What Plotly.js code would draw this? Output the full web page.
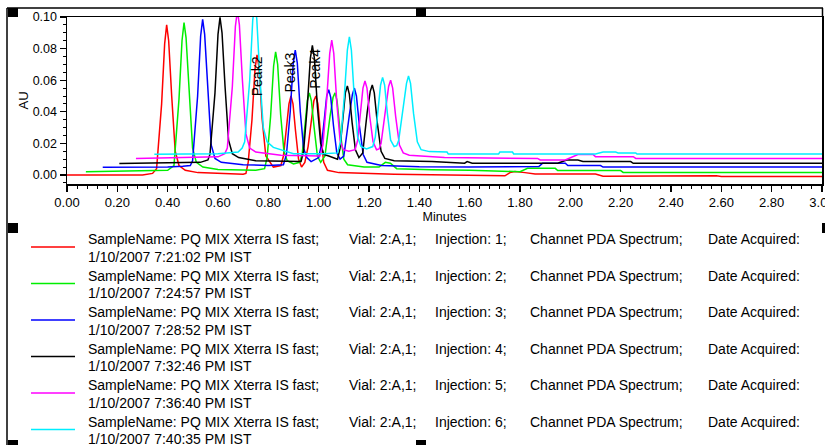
<!DOCTYPE html>
<html>
<head>
<meta charset="utf-8">
<script src="https://cdn.plot.ly/plotly-3.0.1.min.js"></script>
<style>
html,body{margin:0;padding:0;background:#fff;}
#chart{width:825px;height:445px;}
</style>
</head>
<body>
<div id="chart"></div>
<script>
// ---- data (Minutes vs AU) ----
var timeRed = [0, 0.30, 0.34, 0.356, 0.376, 0.388, 0.396, 0.404, 0.416, 0.43, 0.445, 0.47, 0.52, 0.60, 0.70, 0.711, 0.72, 0.735, 0.747, 0.755, 0.763, 0.775, 0.79, 0.82, 0.85, 0.86, 0.872, 0.882, 0.89, 0.898, 0.908, 0.92, 0.932, 0.945, 0.958, 0.970, 0.981, 0.989, 0.997, 1.008, 1.02, 1.035, 1.08, 1.30, 1.50, 1.74, 1.76, 1.78, 1.82, 1.86, 2.10, 2.13, 2.58, 2.60, 3.00];
var auRed   = [0, 0, 0.001, 0.004, 0.045, 0.083, 0.095, 0.085, 0.050, 0.015, 0.006, 0.003, 0.0015, 0.001, 0.0005, 0.001, 0.008, 0.035, 0.067, 0.076, 0.068, 0.036, 0.012, 0.005, 0.006, 0.012, 0.030, 0.045, 0.050, 0.045, 0.028, 0.010, 0.005, 0.008, 0.018, 0.035, 0.047, 0.050, 0.045, 0.025, 0.008, 0.003, 0.0015, 0.0005, 0, -0.0005, 0.0015, 0.0022, 0.0015, 0.0006, 0.0006, -0.0008, -0.0005, -0.001, -0.001];

var timeGreen = [0.075, 0.30, 0.40, 0.425, 0.445, 0.457, 0.465, 0.473, 0.485, 0.499, 0.514, 0.54, 0.60, 0.75, 0.785, 0.795, 0.809, 0.821, 0.829, 0.837, 0.849, 0.862, 0.875, 0.90, 0.925, 0.935, 0.946, 0.955, 0.963, 0.971, 0.982, 0.995, 1.008, 1.025, 1.045, 1.057, 1.065, 1.073, 1.085, 1.10, 1.115, 1.18, 1.24, 1.265, 1.285, 1.31, 1.45, 1.60, 1.80, 1.83, 1.94, 1.95, 2.20, 2.21, 3.00];
var auGreen   = [0.0021, 0.0025, 0.003, 0.006, 0.048, 0.085, 0.0964, 0.087, 0.052, 0.017, 0.008, 0.005, 0.0035, 0.003, 0.004, 0.011, 0.037, 0.069, 0.078, 0.070, 0.038, 0.015, 0.009, 0.007, 0.008, 0.014, 0.032, 0.047, 0.052, 0.047, 0.030, 0.012, 0.008, 0.012, 0.037, 0.049, 0.052, 0.047, 0.028, 0.010, 0.0065, 0.005, 0.005, 0.008, 0.0075, 0.004, 0.0033, 0.003, 0.0021, 0.0042, 0.0042, 0.0028, 0.0028, 0.0016, 0.0016];

var timeBlue = [0.142, 0.40, 0.46, 0.49, 0.499, 0.519, 0.531, 0.539, 0.547, 0.559, 0.573, 0.588, 0.613, 0.70, 0.80, 0.86, 0.872, 0.887, 0.899, 0.907, 0.915, 0.927, 0.940, 0.953, 0.97, 1.00, 1.012, 1.023, 1.032, 1.040, 1.048, 1.059, 1.072, 1.085, 1.10, 1.122, 1.134, 1.142, 1.150, 1.162, 1.177, 1.192, 1.25, 1.40, 1.60, 1.875, 1.89, 1.98, 1.99, 2.12, 2.13, 3.00];
var auBlue   = [0.0049, 0.005, 0.0055, 0.006, 0.009, 0.050, 0.088, 0.0985, 0.089, 0.054, 0.019, 0.0105, 0.008, 0.0065, 0.006, 0.0065, 0.013, 0.040, 0.071, 0.079, 0.071, 0.040, 0.017, 0.011, 0.0085, 0.011, 0.020, 0.036, 0.050, 0.054, 0.049, 0.031, 0.014, 0.010, 0.012, 0.038, 0.051, 0.055, 0.050, 0.031, 0.013, 0.008, 0.006, 0.0052, 0.005, 0.0053, 0.0075, 0.0075, 0.006, 0.006, 0.005, 0.005];

var timeBlack = [0.208, 0.45, 0.53, 0.56, 0.568, 0.588, 0.600, 0.608, 0.616, 0.628, 0.642, 0.657, 0.682, 0.75, 0.93, 0.94, 0.955, 0.967, 0.975, 0.983, 0.995, 1.008, 1.02, 1.04, 1.075, 1.085, 1.097, 1.106, 1.114, 1.122, 1.133, 1.146, 1.16, 1.175, 1.193, 1.205, 1.213, 1.221, 1.233, 1.248, 1.263, 1.30, 1.45, 1.58, 1.59, 1.61, 1.95, 1.985, 2.03, 2.05, 2.24, 2.25, 3.00];
var auBlack   = [0.0072, 0.0075, 0.008, 0.0095, 0.013, 0.052, 0.089, 0.0998, 0.090, 0.056, 0.022, 0.0135, 0.011, 0.009, 0.0085, 0.015, 0.044, 0.074, 0.082, 0.074, 0.043, 0.020, 0.013, 0.012, 0.010, 0.017, 0.038, 0.052, 0.0563, 0.051, 0.033, 0.016, 0.011, 0.014, 0.040, 0.053, 0.057, 0.052, 0.033, 0.015, 0.0105, 0.009, 0.0085, 0.0075, 0.0085, 0.0075, 0.0074, 0.0095, 0.0095, 0.0085, 0.0085, 0.0074, 0.0074];

var timeMagenta = [0.274, 0.52, 0.60, 0.627, 0.637, 0.657, 0.669, 0.677, 0.685, 0.697, 0.711, 0.726, 0.75, 0.85, 0.95, 1.005, 1.017, 1.032, 1.044, 1.052, 1.060, 1.072, 1.085, 1.098, 1.12, 1.145, 1.155, 1.167, 1.176, 1.184, 1.192, 1.203, 1.216, 1.23, 1.24, 1.248, 1.266, 1.278, 1.286, 1.294, 1.306, 1.321, 1.336, 1.36, 1.50, 1.87, 1.88, 1.98, 2.03, 2.09, 2.10, 2.25, 2.26, 3.00];
var auMagenta   = [0.0105, 0.011, 0.0115, 0.0135, 0.017, 0.056, 0.094, 0.104, 0.095, 0.060, 0.026, 0.017, 0.0145, 0.0125, 0.012, 0.012, 0.019, 0.048, 0.077, 0.0854, 0.077, 0.046, 0.022, 0.016, 0.015, 0.016, 0.022, 0.042, 0.055, 0.0595, 0.055, 0.037, 0.021, 0.016, 0.0165, 0.020, 0.043, 0.056, 0.060, 0.055, 0.037, 0.019, 0.014, 0.0125, 0.011, 0.0105, 0.0095, 0.0095, 0.013, 0.013, 0.0116, 0.0116, 0.0105, 0.0105];

var timeCyan = [0.347, 0.60, 0.68, 0.696, 0.706, 0.726, 0.738, 0.746, 0.754, 0.766, 0.780, 0.795, 0.82, 0.90, 1.02, 1.075, 1.087, 1.102, 1.114, 1.122, 1.130, 1.142, 1.155, 1.168, 1.19, 1.215, 1.225, 1.237, 1.246, 1.254, 1.262, 1.273, 1.286, 1.30, 1.31, 1.318, 1.337, 1.349, 1.357, 1.365, 1.377, 1.392, 1.407, 1.44, 1.51, 1.515, 1.715, 1.72, 1.77, 1.775, 2.10, 2.13, 2.18, 2.19, 2.26, 2.265, 3.00];
var auCyan   = [0.0131, 0.0135, 0.0145, 0.017, 0.021, 0.060, 0.098, 0.108, 0.099, 0.063, 0.030, 0.021, 0.0175, 0.0135, 0.0135, 0.014, 0.021, 0.050, 0.079, 0.0875, 0.079, 0.048, 0.024, 0.018, 0.0165, 0.018, 0.024, 0.044, 0.057, 0.0618, 0.057, 0.039, 0.022, 0.018, 0.0185, 0.022, 0.045, 0.058, 0.0627, 0.058, 0.039, 0.021, 0.016, 0.0148, 0.0145, 0.0133, 0.0133, 0.0145, 0.0145, 0.0133, 0.0133, 0.0145, 0.0145, 0.014, 0.014, 0.0133, 0.0133];

var seriesColors = ['#ff0000', '#00ee00', '#0000ff', '#000000', '#ff00ff', '#00eeff'];
var injections = ['1', '2', '3', '4', '5', '6'];
var dateAcquired = ['1/10/2007 7:21:02 PM IST', '1/10/2007 7:24:57 PM IST', '1/10/2007 7:28:52 PM IST',
                    '1/10/2007 7:32:46 PM IST', '1/10/2007 7:36:40 PM IST', '1/10/2007 7:40:35 PM IST'];
var sampleName = 'SampleName: PQ MIX Xterra IS fast;';
var vialText = 'Vial: 2:A,1;';
var channelText = 'Channet PDA Spectrum;';
var dateLabel = 'Date Acquired:';

var peakLabels = ['Peak2', 'Peak3', 'Peak4'];
var peakLabelTime = [0.755, 0.887, 0.985];
var peakLabelAU = [0.0625, 0.0650, 0.0672];

var xTickVals = [0, 0.2, 0.4, 0.6, 0.8, 1.0, 1.2, 1.4, 1.6, 1.8, 2.0, 2.2, 2.4, 2.6, 2.8, 3.0];
var yTickVals = [0, 0.02, 0.04, 0.06, 0.08, 0.10];

// ---- chart ----
var FONT = 'Liberation Sans, Arial, sans-serif';
var W = 825, H = 445, ML = 67, MR = 3, MT = 17, MB = 261;
var PW = W - ML - MR, PH = H - MT - MB;
function px(p) { return (p - ML) / PW; }
function py(p) { return (H - MB - p) / PH; }

var times = [timeRed, timeGreen, timeBlue, timeBlack, timeMagenta, timeCyan];
var aus = [auRed, auGreen, auBlue, auBlack, auMagenta, auCyan];
var traces = [];
for (var i = 0; i < times.length; i++) {
  traces.push({
    x: times[i], y: aus[i], type: 'scatter', mode: 'lines',
    line: {color: seriesColors[i], width: 1.5},
    name: 'Injection ' + injections[i], hoverinfo: 'skip'
  });
}

var shapes = [];
var annotations = [];
var black = '#000';
// outer frame of the report object
shapes.push({type: 'line', xref: 'paper', yref: 'paper', x0: px(7), x1: px(823), y0: py(8), y1: py(8), line: {color: black, width: 1.5}});
shapes.push({type: 'line', xref: 'paper', yref: 'paper', x0: px(7), x1: px(7), y0: py(8), y1: py(445), line: {color: black, width: 1.5}});
shapes.push({type: 'line', xref: 'paper', yref: 'paper', x0: px(822.5), x1: px(822.5), y0: py(8), y1: py(17), line: {color: black, width: 1.5}});
// selection handles
var handles = [[8, 8, 18, 17], [416, 8, 426, 17], [8, 223, 18, 233], [8, 440, 18, 446], [416, 440, 426, 446], [822, 223, 826, 233]];
handles.forEach(function (h) {
  shapes.push({type: 'rect', xref: 'paper', yref: 'paper', x0: px(h[0]), x1: px(h[2]), y0: py(h[1]), y1: py(h[3]),
    fillcolor: black, line: {width: 0}});
});

// legend (custom, matching the report layout)
var legFont = {family: FONT, size: 14, color: '#000'};
var colX = [86, 347, 433, 528, 706];
for (var k = 0; k < 6; k++) {
  var y1 = 239 + 36.5 * k, y2 = 256.5 + 36.5 * k, yl = 247 + 36.5 * k;
  shapes.push({type: 'line', xref: 'paper', yref: 'paper', x0: px(31), x1: px(75), y0: py(yl), y1: py(yl),
    line: {color: seriesColors[k], width: 1.5}});
  var cols = [sampleName, vialText, 'Injection: ' + injections[k] + ';', channelText, dateLabel];
  for (var c = 0; c < cols.length; c++) {
    annotations.push({xref: 'paper', yref: 'paper', x: px(colX[c]), y: py(y1), text: cols[c],
      showarrow: false, xanchor: 'left', yanchor: 'middle', font: legFont});
  }
  annotations.push({xref: 'paper', yref: 'paper', x: px(86), y: py(y2), text: dateAcquired[k],
    showarrow: false, xanchor: 'left', yanchor: 'middle', font: legFont});
}

// peak labels
for (var p = 0; p < peakLabels.length; p++) {
  annotations.push({xref: 'x', yref: 'y', x: peakLabelTime[p], y: peakLabelAU[p], text: peakLabels[p],
    textangle: -90, showarrow: false, font: {family: FONT, size: 14, color: '#000'}});
}

var layout = {
  width: W, height: H,
  margin: {l: ML, r: MR, t: MT, b: MB, pad: 0},
  paper_bgcolor: '#fff', plot_bgcolor: '#fff',
  showlegend: false,
  font: {family: FONT, size: 13, color: '#000'},
  xaxis: {
    range: [0, 3.0], tickvals: xTickVals, tickformat: '.2f',
    showgrid: false, zeroline: false,
    showline: true, linecolor: black, linewidth: 1.5, mirror: true,
    ticks: 'outside', ticklen: 6, tickwidth: 1.2, tickcolor: black,
    ticklabeloverflow: 'allow',
    minor: {dtick: 0.04, tick0: 0, ticks: 'outside', ticklen: 3, tickwidth: 1, tickcolor: black, showgrid: false},
    tickfont: {family: FONT, size: 13, color: '#000'},
    title: {text: 'Minutes', font: {family: FONT, size: 12.5, color: '#000'}, standoff: 3}
  },
  yaxis: {
    range: [-0.0057, 0.1], tickvals: yTickVals, tickformat: '.2f',
    showgrid: false, zeroline: false,
    showline: true, linecolor: black, linewidth: 1.5, mirror: true,
    ticks: 'outside', ticklen: 6, tickwidth: 1.2, tickcolor: black,
    minor: {dtick: 0.005, tick0: 0, ticks: 'outside', ticklen: 3, tickwidth: 1, tickcolor: black, showgrid: false},
    tickfont: {family: FONT, size: 12.5, color: '#000'},
    title: {text: 'AU', font: {family: FONT, size: 13, color: '#000'}, standoff: 1}
  },
  shapes: shapes,
  annotations: annotations
};

Plotly.newPlot('chart', traces, layout, {staticPlot: true, displayModeBar: false});
</script>
</body>
</html>
